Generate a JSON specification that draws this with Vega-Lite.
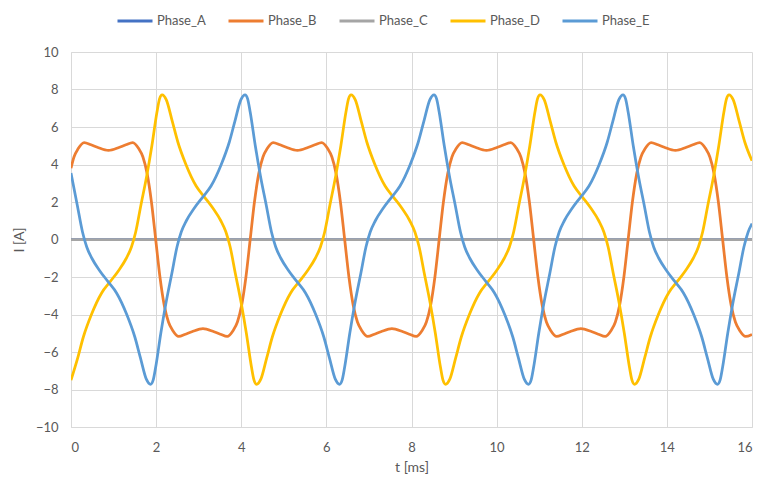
{
  "$schema": "https://vega.github.io/schema/vega-lite/v6.json",
  "width": 681,
  "height": 375,
  "autosize": {"type": "none"},
  "padding": {"left": 71, "top": 52, "right": 10, "bottom": 57},
  "background": "white",
  "config": {
    "font": "Lato",
    "view": {"stroke": null},
    "axis": {"labelColor": "#595959", "titleColor": "#595959", "labelFontSize": 13, "titleFontSize": 14, "titleFontWeight": "normal", "gridColor": "#D9D9D9", "domainColor": "#D9D9D9", "ticks": false}
  },
  "data": {"values": [
    {"s":"Phase_A","t":0,"I":0},{"s":"Phase_A","t":16,"I":0},
    {"s":"Phase_C","t":0,"I":0},{"s":"Phase_C","t":16,"I":0},
    {"s":"Phase_B","t":0,"I":3.8},{"s":"Phase_B","t":0.07,"I":4.4},{"s":"Phase_B","t":0.17,"I":4.85},{"s":"Phase_B","t":0.31,"I":5.17},{"s":"Phase_B","t":0.47,"I":5.05},{"s":"Phase_B","t":0.62,"I":4.92},{"s":"Phase_B","t":0.88,"I":4.75},{"s":"Phase_B","t":1.14,"I":4.92},{"s":"Phase_B","t":1.29,"I":5.05},{"s":"Phase_B","t":1.45,"I":5.17},{"s":"Phase_B","t":1.59,"I":4.85},{"s":"Phase_B","t":1.69,"I":4.4},{"s":"Phase_B","t":1.79,"I":3.5},{"s":"Phase_B","t":1.89,"I":2.0},{"s":"Phase_B","t":1.99,"I":0},
    {"s":"Phase_B","t":2.09,"I":-2.0},{"s":"Phase_B","t":2.19,"I":-3.5},{"s":"Phase_B","t":2.29,"I":-4.4},{"s":"Phase_B","t":2.39,"I":-4.85},{"s":"Phase_B","t":2.53,"I":-5.17},{"s":"Phase_B","t":2.69,"I":-5.05},{"s":"Phase_B","t":2.84,"I":-4.92},{"s":"Phase_B","t":3.10,"I":-4.75},{"s":"Phase_B","t":3.36,"I":-4.92},{"s":"Phase_B","t":3.51,"I":-5.05},{"s":"Phase_B","t":3.67,"I":-5.17},{"s":"Phase_B","t":3.81,"I":-4.85},{"s":"Phase_B","t":3.91,"I":-4.4},{"s":"Phase_B","t":4.01,"I":-3.5},{"s":"Phase_B","t":4.11,"I":-2.0},{"s":"Phase_B","t":4.21,"I":0},
    {"s":"Phase_B","t":4.31,"I":2.0},{"s":"Phase_B","t":4.41,"I":3.5},{"s":"Phase_B","t":4.51,"I":4.4},{"s":"Phase_B","t":4.61,"I":4.85},{"s":"Phase_B","t":4.75,"I":5.17},{"s":"Phase_B","t":4.91,"I":5.05},{"s":"Phase_B","t":5.06,"I":4.92},{"s":"Phase_B","t":5.32,"I":4.75},{"s":"Phase_B","t":5.58,"I":4.92},{"s":"Phase_B","t":5.73,"I":5.05},{"s":"Phase_B","t":5.89,"I":5.17},{"s":"Phase_B","t":6.03,"I":4.85},{"s":"Phase_B","t":6.13,"I":4.4},{"s":"Phase_B","t":6.23,"I":3.5},{"s":"Phase_B","t":6.33,"I":2.0},{"s":"Phase_B","t":6.43,"I":0},
    {"s":"Phase_B","t":6.53,"I":-2.0},{"s":"Phase_B","t":6.63,"I":-3.5},{"s":"Phase_B","t":6.73,"I":-4.4},{"s":"Phase_B","t":6.83,"I":-4.85},{"s":"Phase_B","t":6.97,"I":-5.17},{"s":"Phase_B","t":7.13,"I":-5.05},{"s":"Phase_B","t":7.28,"I":-4.92},{"s":"Phase_B","t":7.54,"I":-4.75},{"s":"Phase_B","t":7.80,"I":-4.92},{"s":"Phase_B","t":7.95,"I":-5.05},{"s":"Phase_B","t":8.11,"I":-5.17},{"s":"Phase_B","t":8.25,"I":-4.85},{"s":"Phase_B","t":8.35,"I":-4.4},{"s":"Phase_B","t":8.45,"I":-3.5},{"s":"Phase_B","t":8.55,"I":-2.0},{"s":"Phase_B","t":8.65,"I":0},
    {"s":"Phase_B","t":8.75,"I":2.0},{"s":"Phase_B","t":8.85,"I":3.5},{"s":"Phase_B","t":8.95,"I":4.4},{"s":"Phase_B","t":9.05,"I":4.85},{"s":"Phase_B","t":9.19,"I":5.17},{"s":"Phase_B","t":9.35,"I":5.05},{"s":"Phase_B","t":9.50,"I":4.92},{"s":"Phase_B","t":9.76,"I":4.75},{"s":"Phase_B","t":10.02,"I":4.92},{"s":"Phase_B","t":10.17,"I":5.05},{"s":"Phase_B","t":10.33,"I":5.17},{"s":"Phase_B","t":10.47,"I":4.85},{"s":"Phase_B","t":10.57,"I":4.4},{"s":"Phase_B","t":10.67,"I":3.5},{"s":"Phase_B","t":10.77,"I":2.0},{"s":"Phase_B","t":10.87,"I":0},
    {"s":"Phase_B","t":10.97,"I":-2.0},{"s":"Phase_B","t":11.07,"I":-3.5},{"s":"Phase_B","t":11.17,"I":-4.4},{"s":"Phase_B","t":11.27,"I":-4.85},{"s":"Phase_B","t":11.41,"I":-5.17},{"s":"Phase_B","t":11.57,"I":-5.05},{"s":"Phase_B","t":11.72,"I":-4.92},{"s":"Phase_B","t":11.98,"I":-4.75},{"s":"Phase_B","t":12.24,"I":-4.92},{"s":"Phase_B","t":12.39,"I":-5.05},{"s":"Phase_B","t":12.55,"I":-5.17},{"s":"Phase_B","t":12.69,"I":-4.85},{"s":"Phase_B","t":12.79,"I":-4.4},{"s":"Phase_B","t":12.89,"I":-3.5},{"s":"Phase_B","t":12.99,"I":-2.0},{"s":"Phase_B","t":13.09,"I":0},
    {"s":"Phase_B","t":13.19,"I":2.0},{"s":"Phase_B","t":13.29,"I":3.5},{"s":"Phase_B","t":13.39,"I":4.4},{"s":"Phase_B","t":13.49,"I":4.85},{"s":"Phase_B","t":13.63,"I":5.17},{"s":"Phase_B","t":13.79,"I":5.05},{"s":"Phase_B","t":13.94,"I":4.92},{"s":"Phase_B","t":14.20,"I":4.75},{"s":"Phase_B","t":14.46,"I":4.92},{"s":"Phase_B","t":14.61,"I":5.05},{"s":"Phase_B","t":14.77,"I":5.17},{"s":"Phase_B","t":14.91,"I":4.85},{"s":"Phase_B","t":15.01,"I":4.4},{"s":"Phase_B","t":15.11,"I":3.5},{"s":"Phase_B","t":15.21,"I":2.0},{"s":"Phase_B","t":15.31,"I":0},
    {"s":"Phase_B","t":15.41,"I":-2.0},{"s":"Phase_B","t":15.51,"I":-3.5},{"s":"Phase_B","t":15.61,"I":-4.4},{"s":"Phase_B","t":15.71,"I":-4.85},{"s":"Phase_B","t":15.85,"I":-5.17},{"s":"Phase_B","t":16.0,"I":-5.06},
    {"s":"Phase_D","t":0,"I":-7.5},{"s":"Phase_D","t":0.16,"I":-6.3},{"s":"Phase_D","t":0.29,"I":-5.2},{"s":"Phase_D","t":0.48,"I":-4.0},{"s":"Phase_D","t":0.72,"I":-2.85},{"s":"Phase_D","t":0.92,"I":-2.25},{"s":"Phase_D","t":1.12,"I":-1.65},{"s":"Phase_D","t":1.30,"I":-1.0},{"s":"Phase_D","t":1.42,"I":-0.4},{"s":"Phase_D","t":1.52,"I":0.4},{"s":"Phase_D","t":1.64,"I":1.8},{"s":"Phase_D","t":1.78,"I":3.4},{"s":"Phase_D","t":1.90,"I":5.0},{"s":"Phase_D","t":2.02,"I":6.8},{"s":"Phase_D","t":2.08,"I":7.5},{"s":"Phase_D","t":2.14,"I":7.72},
    {"s":"Phase_D","t":2.24,"I":7.45},{"s":"Phase_D","t":2.38,"I":6.3},{"s":"Phase_D","t":2.51,"I":5.2},{"s":"Phase_D","t":2.70,"I":4.0},{"s":"Phase_D","t":2.94,"I":2.85},{"s":"Phase_D","t":3.14,"I":2.25},{"s":"Phase_D","t":3.34,"I":1.65},{"s":"Phase_D","t":3.52,"I":1.0},{"s":"Phase_D","t":3.64,"I":0.4},{"s":"Phase_D","t":3.74,"I":-0.4},{"s":"Phase_D","t":3.86,"I":-1.8},{"s":"Phase_D","t":4.00,"I":-3.4},{"s":"Phase_D","t":4.12,"I":-5.0},{"s":"Phase_D","t":4.24,"I":-6.8},{"s":"Phase_D","t":4.30,"I":-7.5},{"s":"Phase_D","t":4.36,"I":-7.72},
    {"s":"Phase_D","t":4.46,"I":-7.45},{"s":"Phase_D","t":4.60,"I":-6.3},{"s":"Phase_D","t":4.73,"I":-5.2},{"s":"Phase_D","t":4.92,"I":-4.0},{"s":"Phase_D","t":5.16,"I":-2.85},{"s":"Phase_D","t":5.36,"I":-2.25},{"s":"Phase_D","t":5.56,"I":-1.65},{"s":"Phase_D","t":5.74,"I":-1.0},{"s":"Phase_D","t":5.86,"I":-0.4},{"s":"Phase_D","t":5.96,"I":0.4},{"s":"Phase_D","t":6.08,"I":1.8},{"s":"Phase_D","t":6.22,"I":3.4},{"s":"Phase_D","t":6.34,"I":5.0},{"s":"Phase_D","t":6.46,"I":6.8},{"s":"Phase_D","t":6.52,"I":7.5},{"s":"Phase_D","t":6.58,"I":7.72},
    {"s":"Phase_D","t":6.68,"I":7.45},{"s":"Phase_D","t":6.82,"I":6.3},{"s":"Phase_D","t":6.95,"I":5.2},{"s":"Phase_D","t":7.14,"I":4.0},{"s":"Phase_D","t":7.38,"I":2.85},{"s":"Phase_D","t":7.58,"I":2.25},{"s":"Phase_D","t":7.78,"I":1.65},{"s":"Phase_D","t":7.96,"I":1.0},{"s":"Phase_D","t":8.08,"I":0.4},{"s":"Phase_D","t":8.18,"I":-0.4},{"s":"Phase_D","t":8.30,"I":-1.8},{"s":"Phase_D","t":8.44,"I":-3.4},{"s":"Phase_D","t":8.56,"I":-5.0},{"s":"Phase_D","t":8.68,"I":-6.8},{"s":"Phase_D","t":8.74,"I":-7.5},{"s":"Phase_D","t":8.80,"I":-7.72},
    {"s":"Phase_D","t":8.90,"I":-7.45},{"s":"Phase_D","t":9.04,"I":-6.3},{"s":"Phase_D","t":9.17,"I":-5.2},{"s":"Phase_D","t":9.36,"I":-4.0},{"s":"Phase_D","t":9.60,"I":-2.85},{"s":"Phase_D","t":9.80,"I":-2.25},{"s":"Phase_D","t":10.00,"I":-1.65},{"s":"Phase_D","t":10.18,"I":-1.0},{"s":"Phase_D","t":10.30,"I":-0.4},{"s":"Phase_D","t":10.40,"I":0.4},{"s":"Phase_D","t":10.52,"I":1.8},{"s":"Phase_D","t":10.66,"I":3.4},{"s":"Phase_D","t":10.78,"I":5.0},{"s":"Phase_D","t":10.90,"I":6.8},{"s":"Phase_D","t":10.96,"I":7.5},{"s":"Phase_D","t":11.02,"I":7.72},
    {"s":"Phase_D","t":11.12,"I":7.45},{"s":"Phase_D","t":11.26,"I":6.3},{"s":"Phase_D","t":11.39,"I":5.2},{"s":"Phase_D","t":11.58,"I":4.0},{"s":"Phase_D","t":11.82,"I":2.85},{"s":"Phase_D","t":12.02,"I":2.25},{"s":"Phase_D","t":12.22,"I":1.65},{"s":"Phase_D","t":12.40,"I":1.0},{"s":"Phase_D","t":12.52,"I":0.4},{"s":"Phase_D","t":12.62,"I":-0.4},{"s":"Phase_D","t":12.74,"I":-1.8},{"s":"Phase_D","t":12.88,"I":-3.4},{"s":"Phase_D","t":13.00,"I":-5.0},{"s":"Phase_D","t":13.12,"I":-6.8},{"s":"Phase_D","t":13.18,"I":-7.5},{"s":"Phase_D","t":13.24,"I":-7.72},
    {"s":"Phase_D","t":13.34,"I":-7.45},{"s":"Phase_D","t":13.48,"I":-6.3},{"s":"Phase_D","t":13.61,"I":-5.2},{"s":"Phase_D","t":13.80,"I":-4.0},{"s":"Phase_D","t":14.04,"I":-2.85},{"s":"Phase_D","t":14.24,"I":-2.25},{"s":"Phase_D","t":14.44,"I":-1.65},{"s":"Phase_D","t":14.62,"I":-1.0},{"s":"Phase_D","t":14.74,"I":-0.4},{"s":"Phase_D","t":14.84,"I":0.4},{"s":"Phase_D","t":14.96,"I":1.8},{"s":"Phase_D","t":15.10,"I":3.4},{"s":"Phase_D","t":15.22,"I":5.0},{"s":"Phase_D","t":15.34,"I":6.8},{"s":"Phase_D","t":15.40,"I":7.5},{"s":"Phase_D","t":15.46,"I":7.72},
    {"s":"Phase_D","t":15.56,"I":7.45},{"s":"Phase_D","t":15.70,"I":6.3},{"s":"Phase_D","t":15.83,"I":5.2},{"s":"Phase_D","t":16.0,"I":4.2},
    {"s":"Phase_E","t":0,"I":3.55},{"s":"Phase_E","t":0.15,"I":1.8},{"s":"Phase_E","t":0.27,"I":0.4},{"s":"Phase_E","t":0.37,"I":-0.4},{"s":"Phase_E","t":0.49,"I":-1.0},{"s":"Phase_E","t":0.67,"I":-1.65},{"s":"Phase_E","t":0.87,"I":-2.25},{"s":"Phase_E","t":1.07,"I":-2.85},{"s":"Phase_E","t":1.31,"I":-4.0},{"s":"Phase_E","t":1.50,"I":-5.2},{"s":"Phase_E","t":1.63,"I":-6.3},{"s":"Phase_E","t":1.77,"I":-7.45},{"s":"Phase_E","t":1.87,"I":-7.72},
    {"s":"Phase_E","t":1.93,"I":-7.5},{"s":"Phase_E","t":1.99,"I":-6.8},{"s":"Phase_E","t":2.11,"I":-5.0},{"s":"Phase_E","t":2.23,"I":-3.4},{"s":"Phase_E","t":2.37,"I":-1.8},{"s":"Phase_E","t":2.49,"I":-0.4},{"s":"Phase_E","t":2.59,"I":0.4},{"s":"Phase_E","t":2.71,"I":1.0},{"s":"Phase_E","t":2.89,"I":1.65},{"s":"Phase_E","t":3.09,"I":2.25},{"s":"Phase_E","t":3.29,"I":2.85},{"s":"Phase_E","t":3.53,"I":4.0},{"s":"Phase_E","t":3.72,"I":5.2},{"s":"Phase_E","t":3.85,"I":6.3},{"s":"Phase_E","t":3.99,"I":7.45},{"s":"Phase_E","t":4.09,"I":7.72},
    {"s":"Phase_E","t":4.15,"I":7.5},{"s":"Phase_E","t":4.21,"I":6.8},{"s":"Phase_E","t":4.33,"I":5.0},{"s":"Phase_E","t":4.45,"I":3.4},{"s":"Phase_E","t":4.59,"I":1.8},{"s":"Phase_E","t":4.71,"I":0.4},{"s":"Phase_E","t":4.81,"I":-0.4},{"s":"Phase_E","t":4.93,"I":-1.0},{"s":"Phase_E","t":5.11,"I":-1.65},{"s":"Phase_E","t":5.31,"I":-2.25},{"s":"Phase_E","t":5.51,"I":-2.85},{"s":"Phase_E","t":5.75,"I":-4.0},{"s":"Phase_E","t":5.94,"I":-5.2},{"s":"Phase_E","t":6.07,"I":-6.3},{"s":"Phase_E","t":6.21,"I":-7.45},{"s":"Phase_E","t":6.31,"I":-7.72},
    {"s":"Phase_E","t":6.37,"I":-7.5},{"s":"Phase_E","t":6.43,"I":-6.8},{"s":"Phase_E","t":6.55,"I":-5.0},{"s":"Phase_E","t":6.67,"I":-3.4},{"s":"Phase_E","t":6.81,"I":-1.8},{"s":"Phase_E","t":6.93,"I":-0.4},{"s":"Phase_E","t":7.03,"I":0.4},{"s":"Phase_E","t":7.15,"I":1.0},{"s":"Phase_E","t":7.33,"I":1.65},{"s":"Phase_E","t":7.53,"I":2.25},{"s":"Phase_E","t":7.73,"I":2.85},{"s":"Phase_E","t":7.97,"I":4.0},{"s":"Phase_E","t":8.16,"I":5.2},{"s":"Phase_E","t":8.29,"I":6.3},{"s":"Phase_E","t":8.43,"I":7.45},{"s":"Phase_E","t":8.53,"I":7.72},
    {"s":"Phase_E","t":8.59,"I":7.5},{"s":"Phase_E","t":8.65,"I":6.8},{"s":"Phase_E","t":8.77,"I":5.0},{"s":"Phase_E","t":8.89,"I":3.4},{"s":"Phase_E","t":9.03,"I":1.8},{"s":"Phase_E","t":9.15,"I":0.4},{"s":"Phase_E","t":9.25,"I":-0.4},{"s":"Phase_E","t":9.37,"I":-1.0},{"s":"Phase_E","t":9.55,"I":-1.65},{"s":"Phase_E","t":9.75,"I":-2.25},{"s":"Phase_E","t":9.95,"I":-2.85},{"s":"Phase_E","t":10.19,"I":-4.0},{"s":"Phase_E","t":10.38,"I":-5.2},{"s":"Phase_E","t":10.51,"I":-6.3},{"s":"Phase_E","t":10.65,"I":-7.45},{"s":"Phase_E","t":10.75,"I":-7.72},
    {"s":"Phase_E","t":10.81,"I":-7.5},{"s":"Phase_E","t":10.87,"I":-6.8},{"s":"Phase_E","t":10.99,"I":-5.0},{"s":"Phase_E","t":11.11,"I":-3.4},{"s":"Phase_E","t":11.25,"I":-1.8},{"s":"Phase_E","t":11.37,"I":-0.4},{"s":"Phase_E","t":11.47,"I":0.4},{"s":"Phase_E","t":11.59,"I":1.0},{"s":"Phase_E","t":11.77,"I":1.65},{"s":"Phase_E","t":11.97,"I":2.25},{"s":"Phase_E","t":12.17,"I":2.85},{"s":"Phase_E","t":12.41,"I":4.0},{"s":"Phase_E","t":12.60,"I":5.2},{"s":"Phase_E","t":12.73,"I":6.3},{"s":"Phase_E","t":12.87,"I":7.45},{"s":"Phase_E","t":12.97,"I":7.72},
    {"s":"Phase_E","t":13.03,"I":7.5},{"s":"Phase_E","t":13.09,"I":6.8},{"s":"Phase_E","t":13.21,"I":5.0},{"s":"Phase_E","t":13.33,"I":3.4},{"s":"Phase_E","t":13.47,"I":1.8},{"s":"Phase_E","t":13.59,"I":0.4},{"s":"Phase_E","t":13.69,"I":-0.4},{"s":"Phase_E","t":13.81,"I":-1.0},{"s":"Phase_E","t":13.99,"I":-1.65},{"s":"Phase_E","t":14.19,"I":-2.25},{"s":"Phase_E","t":14.39,"I":-2.85},{"s":"Phase_E","t":14.63,"I":-4.0},{"s":"Phase_E","t":14.82,"I":-5.2},{"s":"Phase_E","t":14.95,"I":-6.3},{"s":"Phase_E","t":15.09,"I":-7.45},{"s":"Phase_E","t":15.19,"I":-7.72},
    {"s":"Phase_E","t":15.25,"I":-7.5},{"s":"Phase_E","t":15.31,"I":-6.8},{"s":"Phase_E","t":15.43,"I":-5.0},{"s":"Phase_E","t":15.55,"I":-3.4},{"s":"Phase_E","t":15.69,"I":-1.8},{"s":"Phase_E","t":15.81,"I":-0.4},{"s":"Phase_E","t":15.91,"I":0.4},{"s":"Phase_E","t":16.0,"I":0.85}
  ]},
  "mark": {"type": "line", "interpolate": "monotone", "strokeWidth": 2.75, "clip": true},
  "encoding": {
    "x": {"field": "t", "type": "quantitative", "title": "t [ms]", "scale": {"domain": [0, 16], "nice": false, "zero": false},
      "axis": {"values": [0,2,4,6,8,10,12,14,16], "labelPadding": 14, "titlePadding": 6, "grid": true}},
    "y": {"field": "I", "type": "quantitative", "title": "I [A]", "scale": {"domain": [-10, 10], "nice": false},
      "axis": {"values": [-10,-8,-6,-4,-2,0,2,4,6,8,10], "labelPadding": 13, "titlePadding": 9, "grid": true}},
    "color": {"field": "s", "type": "nominal", "title": null,
      "scale": {"domain": ["Phase_A","Phase_B","Phase_C","Phase_D","Phase_E"], "range": ["#4472C4","#ED7D31","#A5A5A5","#FFC000","#5B9BD5"]},
      "legend": {"orient": "none", "legendX": 45, "legendY": -50, "direction": "horizontal", "symbolType": "stroke", "symbolSize": 1225, "symbolStrokeWidth": 3, "labelFontSize": 13, "labelColor": "#595959", "columnPadding": 16, "labelOffset": 3}},
    "order": {"field": "t", "type": "quantitative"}
  }
}
